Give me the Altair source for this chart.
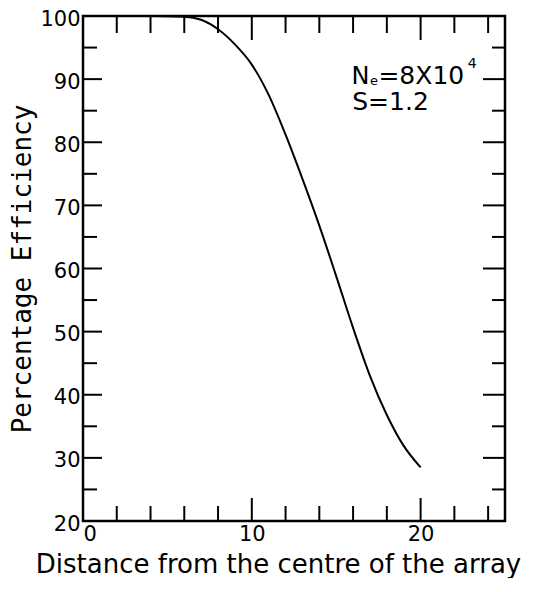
import altair as alt
import pandas as pd

# curve data
dist = [0, 2, 4, 6, 7, 8, 9, 10, 11, 12, 13, 14, 15, 16, 17, 18, 19, 20]
eff = [100, 100, 100, 99.9, 99.4, 97.9, 95.5, 92.3, 87.5, 81.2, 74.2, 66.8, 58.8, 50.6, 43.0, 36.8, 31.9, 28.5]

# axis ticks
x_labels = [0, 10, 20]
y_labels = [20, 30, 40, 50, 60, 70, 80, 90, 100]
x_major = [10, 20]
x_minor = [2, 4, 6, 8, 12, 14, 16, 18, 22, 24]
y_major = [30, 40, 50, 60, 70, 80, 90]
y_minor = [25, 35, 45, 55, 65, 75, 85, 95]

# annotation pieces
ann_text = ["N", "e", "=8X10", "4", "S=1.2"]
ann_x = [15.9, 17.0, 17.5, 22.8, 15.95]
ann_y = [89.3, 89.1, 89.3, 91.8, 85.1]
ann_size = [24, 13, 25, 14, 25]

W, H = 422, 505
FONT = "DejaVu Sans"

xs = alt.Scale(domain=[0, 25], nice=False, zero=False)
ys = alt.Scale(domain=[20, 100], nice=False, zero=False)

x_axis = alt.Axis(
    title="Distance from the centre of the array", values=x_labels,
    ticks=False, domain=False, grid=False, labelFontSize=21, labelFont=FONT,
    labelColor="black", labelPadding=2, titleFont=FONT, titleFontSize=26,
    titleFontWeight="normal", titleColor="black", titlePadding=7, titleX=195)
y_axis = alt.Axis(
    title="Percentage Efficiency", values=y_labels,
    ticks=False, domain=False, grid=False, labelFontSize=21, labelFont=FONT,
    labelColor="black", labelPadding=3, labelOffset=3,
    titleFont="DejaVu Sans Mono", titleFontSize=26,
    titleFontWeight="normal", titleColor="black", titlePadding=4)

curve = alt.Chart(pd.DataFrame({"d": dist, "e": eff})).mark_line(
    color="black", strokeWidth=2, interpolate="monotone"
).encode(
    x=alt.X("d:Q", scale=xs, axis=x_axis),
    y=alt.Y("e:Q", scale=ys, axis=y_axis),
)


def xticks(vals, length, side):
    if side == "bottom":
        y1, y2 = alt.value(H), alt.value(H - length)
    else:
        y1, y2 = alt.value(0), alt.value(length)
    return alt.Chart(pd.DataFrame({"v": vals})).mark_rule(color="black", strokeWidth=2).encode(
        x=alt.X("v:Q", scale=xs, axis=x_axis), y=y1, y2=y2)


def yticks(vals, length, side):
    if side == "left":
        x1, x2 = alt.value(0), alt.value(length)
    else:
        x1, x2 = alt.value(W), alt.value(W - length)
    return alt.Chart(pd.DataFrame({"v": vals})).mark_rule(color="black", strokeWidth=2).encode(
        y=alt.Y("v:Q", scale=ys, axis=y_axis), x=x1, x2=x2)


ticks = [
    xticks(x_major, 23, "bottom"), xticks(x_minor, 15, "bottom"),
    xticks(x_major, 24, "top"), xticks(x_minor, 17, "top"),
    yticks(y_major, 19, "left"), yticks(y_minor, 14, "left"),
    yticks(y_major, 22, "right"), yticks(y_minor, 13, "right"),
]

ann = alt.Chart(pd.DataFrame({"t": ann_text, "x": ann_x, "y": ann_y, "s": ann_size})).mark_text(
    align="left", baseline="alphabetic", font=FONT, color="black"
).encode(
    x=alt.X("x:Q", scale=xs, axis=x_axis),
    y=alt.Y("y:Q", scale=ys, axis=y_axis),
    text="t:N",
    size=alt.Size("s:Q", scale=None, legend=None),
)

chart = alt.layer(curve, *ticks, ann).properties(
    width=W, height=H, background="white",
    autosize=alt.AutoSizeParams(type="none"),
    padding={"left": 75, "top": 8, "right": 31, "bottom": 57},
).configure_view(stroke="black", strokeWidth=2.5)

chart.save("out.html", embed_options={"renderer": "svg", "actions": False})
